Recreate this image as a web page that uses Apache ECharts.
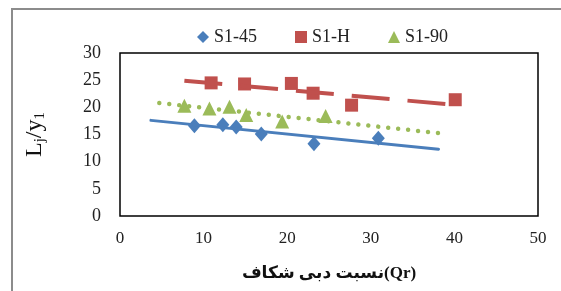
<!DOCTYPE html>
<html>
<head>
<meta charset="utf-8">
<script src="https://cdn.jsdelivr.net/npm/echarts@6/dist/echarts.min.js"></script>
<style>
  html, body { margin: 0; padding: 0; background: #fff; }
  #chart { width: 561px; height: 291px; }
</style>
</head>
<body>
<div id="chart"></div>
<script>
// values
const s145 = [[8.9, 16.6], [12.3, 16.8], [13.9, 16.4], [16.9, 15.1], [23.2, 13.3], [30.9, 14.3]]
const s1H = [[10.9, 24.5], [14.9, 24.3], [20.5, 24.4], [23.1, 22.6], [27.7, 20.4], [40.1, 21.4]]
const s190 = [[7.7, 20.3], [10.7, 19.8], [13.1, 20.1], [15.1, 18.6], [19.4, 17.4], [24.6, 18.4]]

// trend line ends as drawn in the picture
const trend145 = [[3.7, 17.6], [38.1, 12.3]]
const trend1H = [[7.7, 24.9], [39.0, 20.6]]
const trend190 = [[4.7, 20.8], [39.0, 15.1]]

const xTicks = [0, 10, 20, 30, 40, 50]
const yTicks = [0, 5, 10, 15, 20, 25, 30]

const serif = '"Liberation Serif", "Times New Roman", serif'

const chart = echarts.init(document.getElementById('chart'))

const trendSeries = (data, color, width, type, cap) => ({
  type: 'line',
  data: data,
  showSymbol: false,
  silent: true,
  lineStyle: { color: color, width: width, type: type, cap: cap },
})

chart.setOption({
  animation: false,
  graphic: [{
    type: 'rect',
    shape: { x: 12, y: 9, width: 600, height: 320 },
    style: { fill: 'none', stroke: '#8c8c8c', lineWidth: 2 },
    silent: true,
  }],
  legend: {
    top: 23,
    left: 192,
    itemWidth: 12,
    itemHeight: 12,
    itemGap: 38,
    textStyle: { fontFamily: serif, fontSize: 18, color: '#222' },
    data: [
      { name: 'S1-45', icon: 'diamond' },
      { name: 'S1-H', icon: 'rect' },
      { name: 'S1-90', icon: 'triangle' },
    ],
  },
  grid: {
    left: 120, right: 23, top: 53, bottom: 75,
    show: true, borderColor: '#000', borderWidth: 1.5,
  },
  xAxis: {
    type: 'value',
    min: xTicks[0],
    max: xTicks[xTicks.length - 1],
    interval: 10,
    splitLine: { show: false },
    axisTick: { show: false },
    axisLine: { show: false },
    axisLabel: { color: '#222', fontFamily: serif, fontSize: 17, margin: 14 },
    name: 'نسبت دبی شکاف(Qr)',
    nameLocation: 'middle',
    nameGap: 49,
    nameTextStyle: { fontFamily: serif + ', "DejaVu Sans"', fontSize: 17, fontWeight: 'bold', color: '#111' },
  },
  yAxis: {
    type: 'value',
    min: yTicks[0],
    max: yTicks[yTicks.length - 1],
    interval: 5,
    splitLine: { show: false },
    axisTick: { show: false },
    axisLine: { show: false },
    axisLabel: { color: '#222', fontFamily: serif, fontSize: 18, margin: 19 },
    name: '{a|L}{s|j}{a|/y}{s|1}',
    nameLocation: 'middle',
    nameRotate: 90,
    nameGap: 72,
    nameTextStyle: {
      rich: {
        a: { fontFamily: serif, fontSize: 24, color: '#111' },
        s: { fontFamily: serif, fontSize: 15, color: '#111', padding: [12, 0, 0, 0] },
      },
    },
  },
  series: [
    trendSeries(trend145, '#4a7ebb', 3, 'solid', 'round'),
    trendSeries(trend1H, '#c0504d', 4, [38, 18], 'butt'),
    trendSeries(trend190, '#9bbb59', 4.5, [0.01, 10], 'round'),
    { name: 'S1-45', type: 'scatter', data: s145, symbol: 'diamond', symbolSize: [13, 15], itemStyle: { color: '#4a7ebb', opacity: 1 } },
    { name: 'S1-H', type: 'scatter', data: s1H, symbol: 'rect', symbolSize: 13, itemStyle: { color: '#c0504d', opacity: 1 } },
    { name: 'S1-90', type: 'scatter', data: s190, symbol: 'triangle', symbolSize: 14, itemStyle: { color: '#9bbb59', opacity: 1 } },
  ],
})
</script>
</body>
</html>
